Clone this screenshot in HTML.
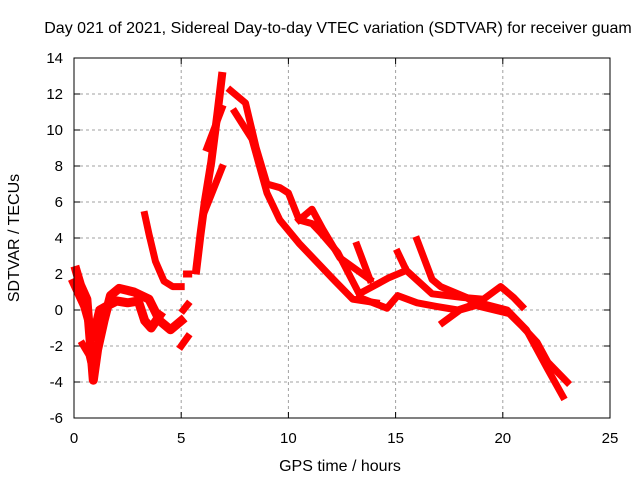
<!DOCTYPE html>
<html><head><meta charset="utf-8"><style>
body{margin:0;background:#fff}
svg{font-family:"Liberation Sans",sans-serif;font-size:15px}
</style></head><body>
<svg id="c" width="640" height="480" xmlns="http://www.w3.org/2000/svg">
<rect width="640" height="480" fill="#fff"/>
<text x="338" y="33" text-anchor="middle" font-size="16">Day 021 of 2021, Sidereal Day-to-day VTEC variation (SDTVAR) for receiver guam</text>
<text x="340" y="471" text-anchor="middle" font-size="16">GPS time / hours</text>
<text transform="translate(19,238) rotate(-90)" text-anchor="middle" font-size="16">SDTVAR / TECUs</text>
<g id="grid"></g><g id="series"></g>
<rect x="74" y="58" width="536" height="360" fill="none" stroke="#000"/>
</svg>
<script>
const xTicks=[0,5,10,15,20,25];
const yTicks=[-6,-4,-2,0,2,4,6,8,10,12,14];
const track1=[[0.1,2.2],[0.3,1.4],[0.6,0.6],[0.9,-3.9],[1.1,-2.2],[1.4,-0.6],[1.7,0.8],[2.1,1.2],[2.8,1.0],[3.5,0.6],[4.0,-0.6],[4.5,-1.1],[5.0,-0.6]];
const track2=[[0.0,1.5],[0.5,0.2],[0.9,-1.5],[1.2,0.0],[1.5,0.2],[2.0,0.5],[2.5,0.4],[3.0,0.5],[3.3,-0.6],[3.6,-1.0],[4.0,-0.3]];
const track3=[[0.4,-1.9],[0.7,-2.5],[0.9,-3.5]];
const track4=[[5.1,0.0],[5.3,0.3]];
const track5=[[5.0,-2.0],[5.3,-1.5]];
const track6=[[5.25,2.0],[5.35,2.0]];
const track7=[[3.3,5.3],[3.5,4.2],[3.8,2.7],[4.2,1.6],[4.6,1.3],[5.0,1.3]];
const track8=[[5.7,2.2],[5.9,4.2],[6.1,6.0],[6.4,8.2],[6.7,11.0],[6.9,13.0]];
const track9=[[6.1,5.5],[6.5,6.7],[6.9,7.9]];
const track10=[[6.2,9.0],[6.9,11.2]];
const track11=[[7.3,12.2],[8.0,11.5],[8.5,9.0],[9.0,7.0],[9.6,6.8],[10.0,6.5],[10.5,5.0],[11.1,4.8],[11.5,4.3],[12.3,3.2],[13.3,0.9],[14.7,1.8],[15.5,2.2]];
const track12=[[7.5,11.0],[8.3,9.5],[9.0,6.5],[9.6,5.0],[10.5,3.7],[12.1,1.7],[13.0,0.6],[14.1,0.4]];
const track13=[[10.5,5.0],[11.1,5.6],[11.6,4.5],[12.4,2.9],[13.8,1.7]];
const track14=[[13.2,3.6],[13.8,1.7]];
const track15=[[15.1,3.2],[15.5,2.2],[16.7,0.9],[18.1,0.7],[19.1,0.6],[19.9,1.3],[20.5,0.7],[20.9,0.2]];
const track16=[[16.0,3.9],[16.7,1.7],[17.1,1.3],[18.3,0.7],[18.9,0.2],[20.3,-0.2],[20.9,-0.9],[21.6,-1.8],[22.1,-2.9],[23.0,-4.0]];
const track17=[[13.3,0.7],[14.6,0.1],[15.1,0.8],[16.0,0.4],[16.9,0.2],[17.9,0.0],[18.9,0.4],[20.2,0.0],[21.1,-1.1],[22.1,-3.3],[22.8,-4.8]];
const track18=[[17.2,-0.7],[18.0,0.0],[18.9,0.3]];
const tracks=[track1,track2,track3,track4,track5,track6,track7,track8,track9,track10,track11,track12,track13,track14,track15,track16,track17,track18];
const widths=[9,9,7,7,7,7,7,8,7,7,7,7,7,7,7,7,7,7];
const X=h=>74+h*536/25, Y=v=>310-v*18;
const NS="http://www.w3.org/2000/svg";
const g=document.getElementById('grid'), s=document.getElementById('series'), svg=document.getElementById('c');
xTicks.forEach(t=>{
  if(t>0&&t<25){const l=document.createElementNS(NS,'line');
  l.setAttribute('x1',X(t));l.setAttribute('x2',X(t));l.setAttribute('y1',58);l.setAttribute('y2',418);
  l.setAttribute('stroke','#a0a0a0');l.setAttribute('stroke-dasharray','3,3');
  
  g.appendChild(l);}
  const tk=document.createElementNS(NS,'path');
  tk.setAttribute('d',`M${X(t)} 418v-6M${X(t)} 58v6`);tk.setAttribute('stroke','#000');
  
  g.appendChild(tk);
  const tx=document.createElementNS(NS,'text');tx.setAttribute('x',X(t));tx.setAttribute('y',443);tx.setAttribute('text-anchor','middle');tx.textContent=t;
  
  svg.appendChild(tx);
});
yTicks.forEach(t=>{
  if(t>-6&&t<14){const l=document.createElementNS(NS,'line');
  l.setAttribute('x1',74);l.setAttribute('x2',610);l.setAttribute('y1',Y(t));l.setAttribute('y2',Y(t));
  l.setAttribute('stroke','#a0a0a0');l.setAttribute('stroke-dasharray','3,3');
  
  g.appendChild(l);}
  const tk=document.createElementNS(NS,'path');
  tk.setAttribute('d',`M74 ${Y(t)}h6M610 ${Y(t)}h-6`);tk.setAttribute('stroke','#000');
  
  g.appendChild(tk);
  const tx=document.createElementNS(NS,'text');tx.setAttribute('x',63);tx.setAttribute('y',Y(t)+5);tx.setAttribute('text-anchor','end');tx.textContent=t;
  
  svg.appendChild(tx);
});
tracks.forEach((tr,i)=>{
  const p=document.createElementNS(NS,'polyline');
  p.setAttribute('points',tr.map(d=>X(d[0])+','+Y(d[1])).join(' '));
  p.setAttribute('fill','none');p.setAttribute('stroke','#ff0000');p.setAttribute('stroke-width',widths[i]);
  p.setAttribute('stroke-linejoin','round');p.setAttribute('stroke-linecap','square');
  
  s.appendChild(p);
});
</script>
</body></html>
